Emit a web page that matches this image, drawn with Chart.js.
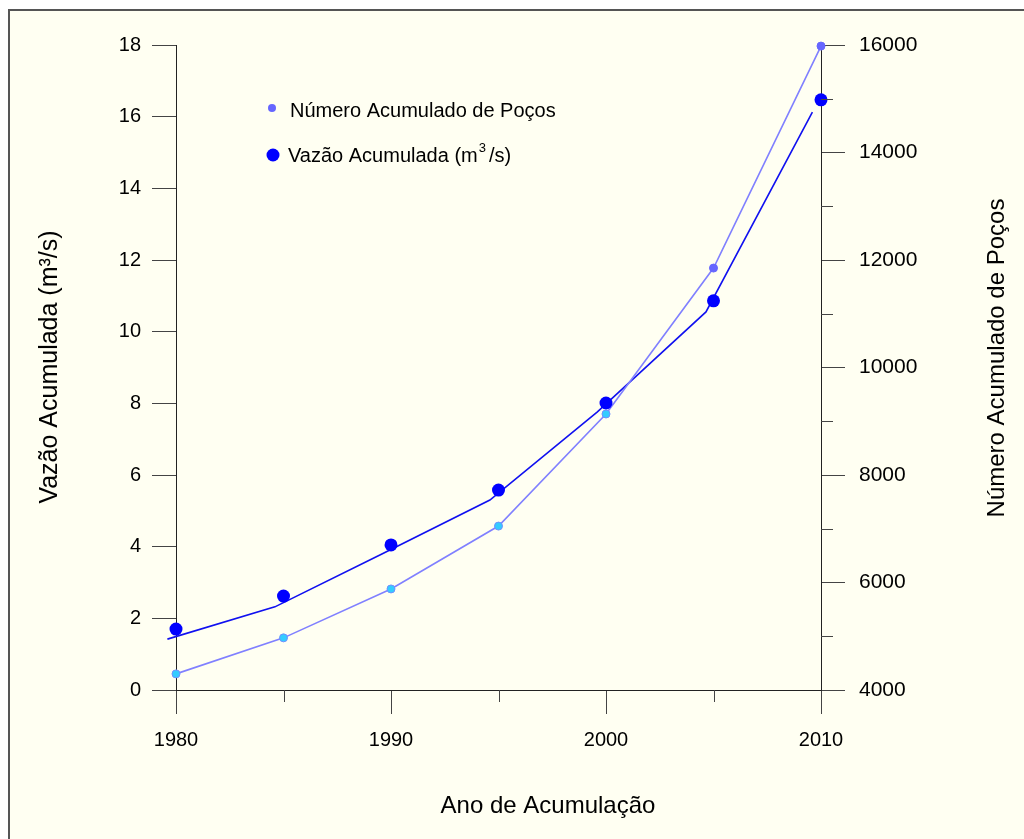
<!DOCTYPE html>
<html><head><meta charset="utf-8">
<script src="https://cdn.jsdelivr.net/npm/chart.js@4/dist/chart.umd.min.js"></script>
<style>html,body{margin:0;padding:0;background:#fff;}canvas{display:block;}</style>
</head><body>
<canvas id="c" width="1024" height="839"></canvas>
<script>
// ---- data ----
const years = [1980, 1985, 1990, 1995, 2000, 2005, 2010];
const wellsCount = [4300, 4970, 5880, 7050, 9135, 11850, 15980];
const flowRate = [1.70, 2.62, 4.05, 5.58, 8.01, 10.86, 16.47];
const flowCurveYears = [1979.6, 1984.6, 1989.6, 1994.6, 1999.6, 2004.65, 2009.6];
const flowCurveValues = [1.42, 2.32, 3.80, 5.30, 7.76, 10.55, 16.13];
const xMajorTicks = [1980, 1990, 2000, 2010];
const xMinorTicks = [1985, 1995, 2005];
const leftTicks = [0, 2, 4, 6, 8, 10, 12, 14, 16, 18];
const rightTicks = [4000, 6000, 8000, 10000, 12000, 14000, 16000];
const rightMinorTicks = [5000, 7000, 9000, 11000, 13000, 15000];
const xTitle = 'Ano de Acumulação';
const leftTitle = 'Vazão Acumulada (m³/s)';
const rightTitle = 'Número Acumulado de Poços';
const wellsLabel = 'Número Acumulado de Poços';
const flowLabelMain = 'Vazão Acumulada (m';
const flowLabelSup = '3';
const flowLabelEnd = '/s)';

const FONT = '"Liberation Sans", Arial, sans-serif';
const BG = '#fffff2';

const framePlugin = {
  id: 'frame',
  beforeDraw(chart) {
    const c = chart.ctx;
    c.save();
    c.fillStyle = '#ffffff';
    c.fillRect(0, 0, chart.width, chart.height);
    c.fillStyle = BG;
    c.fillRect(9, 10, chart.width, chart.height);
    c.strokeStyle = '#555';
    c.lineWidth = 2;
    c.strokeRect(9, 10, chart.width + 20, chart.height + 20);
    c.restore();
  }
};

const extrasPlugin = {
  id: 'extras',
  afterDraw(chart) {
    const c = chart.ctx;
    const xs = chart.scales.x, y2 = chart.scales.y2;
    const area = chart.chartArea;
    c.save();
    // minor ticks
    c.strokeStyle = '#444';
    c.lineWidth = 1;
    c.beginPath();
    xMinorTicks.forEach(v => {
      const px = Math.round(xs.getPixelForValue(v)) + 0.5;
      c.moveTo(px, area.bottom);
      c.lineTo(px, area.bottom + 12);
    });
    rightMinorTicks.forEach(v => {
      const py = Math.round(y2.getPixelForValue(v)) + 0.5;
      c.moveTo(area.right, py);
      c.lineTo(area.right + 12, py);
    });
    c.stroke();

    // axis titles
    c.fillStyle = '#000';
    c.textAlign = 'center';
    c.textBaseline = 'middle';
    c.font = '24px ' + FONT;
    c.fillText(xTitle, 548, 806);
    c.save();
    c.translate(997, 358);
    c.rotate(-Math.PI / 2);
    c.fillText(rightTitle, 0, 0);
    c.restore();
    c.font = '25px ' + FONT;
    c.save();
    c.translate(50, 367);
    c.rotate(-Math.PI / 2);
    c.fillText(leftTitle, 0, 0);
    c.restore();

    // legend
    c.textAlign = 'left';
    c.font = '20px ' + FONT;
    c.fillStyle = '#6666ff';
    c.beginPath(); c.arc(272, 108, 4, 0, Math.PI * 2); c.fill();
    c.fillStyle = '#0000ff';
    c.beginPath(); c.arc(273, 155, 6.5, 0, Math.PI * 2); c.fill();
    c.fillStyle = '#000';
    c.fillText(wellsLabel, 290, 111);
    c.fillText(flowLabelMain, 288, 156);
    const w = c.measureText(flowLabelMain).width;
    c.font = '13px ' + FONT;
    c.fillText(flowLabelSup, 288 + w + 1, 148);
    const w2 = c.measureText(flowLabelSup).width;
    c.font = '20px ' + FONT;
    c.fillText(flowLabelEnd, 288 + w + w2 + 4, 156);
    c.restore();
  }
};

const tickFont = { size: 20, family: FONT };
const axisGrid = { drawOnChartArea: false, tickLength: 24, tickColor: '#444', color: '#444' };
const axisBorder = { color: '#222', width: 1 };

new Chart(document.getElementById('c'), {
  type: 'line',
  data: {
    datasets: [
      {
        label: 'flowPoints',
        data: years.map((y, i) => ({ x: y, y: flowRate[i] })),
        yAxisID: 'y',
        showLine: false,
        pointRadius: 6.5,
        pointBackgroundColor: '#0000ff',
        pointBorderColor: '#0000ff',
        pointBorderWidth: 0,
        clip: false,
        order: 0
      },
      {
        label: wellsLabel,
        data: years.map((y, i) => ({ x: y, y: wellsCount[i] })),
        yAxisID: 'y2',
        borderColor: '#8080ff',
        borderWidth: 1.6,
        tension: 0,
        pointRadius: 4,
        pointBackgroundColor: ctx => ctx.dataIndex < 5 ? '#33ccff' : '#6666ff',
        pointBorderColor: ctx => ctx.dataIndex < 5 ? '#7090ff' : '#6666ff',
        pointBorderWidth: 1,
        clip: false,
        order: 1
      },
      {
        label: 'flowCurve',
        data: flowCurveYears.map((y, i) => ({ x: y, y: flowCurveValues[i] })),
        yAxisID: 'y',
        borderColor: '#1010f0',
        borderWidth: 1.6,
        tension: 0,
        pointRadius: 0,
        clip: false,
        order: 2
      }
    ]
  },
  options: {
    responsive: false,
    animation: false,
    events: [],
    layout: { padding: { top: 45, left: 0, right: 0, bottom: 0 } },
    plugins: { legend: { display: false }, tooltip: { enabled: false } },
    scales: {
      x: {
        type: 'linear', min: 1980, max: 2010,
        afterBuildTicks: s => { s.ticks = xMajorTicks.map(v => ({ value: v })); },
        ticks: { font: tickFont, color: '#000', padding: 14, maxRotation: 0, callback: v => String(v) },
        grid: axisGrid, border: axisBorder,
        afterFit: s => { s.height = 149; }
      },
      y: {
        position: 'left', min: 0, max: 18,
        afterBuildTicks: s => { s.ticks = leftTicks.map(v => ({ value: v })); },
        ticks: { font: tickFont, color: '#000', padding: 11, callback: v => String(v) },
        grid: axisGrid, border: axisBorder,
        afterFit: s => { s.width = 176; }
      },
      y2: {
        position: 'right', min: 4000, max: 16000,
        afterBuildTicks: s => { s.ticks = rightTicks.map(v => ({ value: v })); },
        ticks: { font: { size: 21, family: FONT }, color: '#000', padding: 14, callback: v => String(v) },
        grid: axisGrid, border: axisBorder,
        afterFit: s => { s.width = 203; }
      }
    }
  },
  plugins: [framePlugin, extrasPlugin]
});
</script>
</body></html>
